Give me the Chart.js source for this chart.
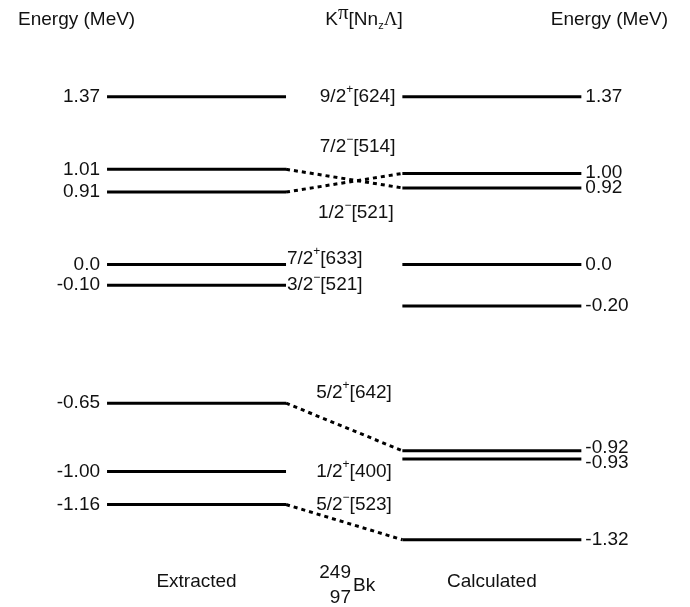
<!DOCTYPE html>
<html>
<head>
<meta charset="utf-8">
<title>249Bk single-particle levels</title>
<script src="https://cdn.jsdelivr.net/npm/chart.js@4.4.1/dist/chart.umd.min.js"></script>
<style>
    html, body { margin: 0; padding: 0; background: #ffffff; }
    #wrap { width: 690px; height: 607px; position: relative; }
</style>
</head>
<body>
<div id="wrap"><canvas id="levelChart"></canvas></div>
<script>
// energy labels as printed next to each level (MeV)
const extractedEnergies = ["1.37", "1.01", "0.91", "0.0", "-0.10", "-0.65", "-1.00", "-1.16"];
const calculatedEnergies = ["1.37", "1.00", "0.92", "0.0", "-0.20", "-0.92", "-0.93", "-1.32"];

// level heights as drawn (schematic, axis broken between 0 and ~0.9 MeV)
const extractedLevels = [0.81, 0.46, 0.35, 0.0, -0.10, -0.67, -1.00, -1.16];
const calculatedLevels = [0.81, 0.44, 0.37, 0.0, -0.20, -0.90, -0.94, -1.33];

// dotted connectors: [extracted index, calculated index]
const connectors = [[1, 2], [2, 1], [5, 5], [7, 7]];

// Nilsson labels: [K, parity, orbit]
const orbitals = [
    ["9/2", "+", "[624]"],
    ["7/2", "−", "[514]"],
    ["1/2", "−", "[521]"],
    ["7/2", "+", "[633]"],
    ["3/2", "−", "[521]"],
    ["5/2", "+", "[642]"],
    ["1/2", "+", "[400]"],
    ["5/2", "−", "[523]"]
];
// where each orbital label sits: [x, y, align]
const orbitalAnchors = [
    [1.40, 0.81, "center"],
    [1.40, 0.57, "center"],
    [1.39, 0.25, "center"],
    [1.005, 0.03, "left"],
    [1.005, -0.10, "left"],
    [1.38, -0.62, "center"],
    [1.38, -1.00, "center"],
    [1.38, -1.16, "center"]
];

const extractedSpan = [0, 1];
const calculatedSpan = [1.65, 2.65];

const FONT = '"Liberation Sans", Arial, Helvetica, sans-serif';
const SIZE = 19;

function levelDatasets(levels, span) {
    return levels.map((y) => ({
        data: [{ x: span[0], y }, { x: span[1], y }],
        borderColor: "#000000",
        borderWidth: 3,
        borderCapStyle: "butt"
    }));
}

function connectorDatasets() {
    return connectors.map(([i, j]) => ({
        data: [
            { x: extractedSpan[1], y: extractedLevels[i] },
            { x: calculatedSpan[0], y: calculatedLevels[j] }
        ],
        borderColor: "#000000",
        borderWidth: 3,
        borderDash: [4, 4],
        borderCapStyle: "butt"
    }));
}

// draws a run of text pieces; piece = { t, size, dy }
function drawRich(ctx, pieces, x, y, align) {
    const widths = pieces.map((p) => {
        ctx.font = `${p.size || SIZE}px ${p.family || FONT}`;
        return ctx.measureText(p.t).width;
    });
    const total = widths.reduce((a, b) => a + b, 0);
    let cx = x;
    if (align === "center") cx = x - total / 2;
    if (align === "right") cx = x - total;
    ctx.textAlign = "left";
    ctx.textBaseline = "middle";
    pieces.forEach((p, k) => {
        ctx.font = `${p.size || SIZE}px ${p.family || FONT}`;
        ctx.fillText(p.t, cx, y + (p.dy || 0));
        cx += widths[k];
    });
}

function orbitalPieces(o) {
    return [
        { t: o[0] },
        { t: o[1], size: 12, dy: -7 },
        { t: o[2] }
    ];
}

// spread label positions that would collide (e.g. -0.92 / -0.93)
function spreadLabels(ys, minGap) {
    const out = ys.slice();
    for (let i = 1; i < out.length; i++) {
        const gap = out[i] - out[i - 1];
        if (gap < minGap) {
            const push = (minGap - gap) / 2;
            out[i - 1] -= push;
            out[i] += push;
        }
    }
    return out;
}

const textPlugin = {
    id: "levelText",
    afterDatasetsDraw(chart) {
        const { ctx, scales } = chart;
        const px = (v) => scales.x.getPixelForValue(v);
        const py = (v) => scales.y.getPixelForValue(v);
        ctx.save();
        ctx.fillStyle = "#111111";

        const leftYs = spreadLabels(extractedLevels.map(py), 15);
        extractedLevels.forEach((y, i) => {
            drawRich(ctx, [{ t: extractedEnergies[i] }], px(extractedSpan[0]) - 7, leftYs[i], "right");
        });
        const rightYs = spreadLabels(calculatedLevels.map(py), 15);
        calculatedLevels.forEach((y, i) => {
            drawRich(ctx, [{ t: calculatedEnergies[i] }], px(calculatedSpan[1]) + 4, rightYs[i], "left");
        });

        orbitals.forEach((o, i) => {
            const [ax, ay, align] = orbitalAnchors[i];
            drawRich(ctx, orbitalPieces(o), px(ax), py(ay), align);
        });

        // headers
        drawRich(ctx, [{ t: "Energy (MeV)" }], 18, 20, "left");
        drawRich(ctx, [{ t: "Energy (MeV)" }], 668, 20, "right");
        drawRich(ctx, [
            { t: "K" },
            { t: "π", size: 21, dy: -7, family: '"Liberation Serif", "Times New Roman", serif' },
            { t: "[Nn" },
            { t: "z", size: 11, dy: 6 },
            { t: "Λ", family: '"Liberation Serif", "Times New Roman", serif' },
            { t: "]" }
        ], 364, 20, "center");

        // column captions
        drawRich(ctx, [{ t: "Extracted" }], px((extractedSpan[0] + extractedSpan[1]) / 2), 582, "center");
        drawRich(ctx, [{ t: "Calculated" }], px((calculatedSpan[0] + calculatedSpan[1]) / 2), 582, "center");

        // nucleus
        drawRich(ctx, [{ t: "249" }], 351, 573, "right");
        drawRich(ctx, [{ t: "97" }], 351, 598, "right");
        drawRich(ctx, [{ t: "Bk" }], 353, 586, "left");

        ctx.restore();
    }
};

new Chart(document.getElementById("levelChart"), {
    type: "scatter",
    data: {
        datasets: [
            ...levelDatasets(extractedLevels, extractedSpan),
            ...levelDatasets(calculatedLevels, calculatedSpan),
            ...connectorDatasets()
        ]
    },
    options: {
        responsive: true,
        maintainAspectRatio: false,
        animation: false,
        showLine: true,
        layout: { padding: 0 },
        elements: {
            point: { radius: 0, hoverRadius: 0, hitRadius: 0 },
            line: { tension: 0 }
        },
        plugins: {
            legend: { display: false },
            tooltip: { enabled: false }
        },
        scales: {
            x: { type: "linear", display: false, min: -0.598, max: 3.257 },
            y: { type: "linear", display: false, min: -1.655, max: 1.278 }
        }
    },
    plugins: [textPlugin]
});
</script>
</body>
</html>
